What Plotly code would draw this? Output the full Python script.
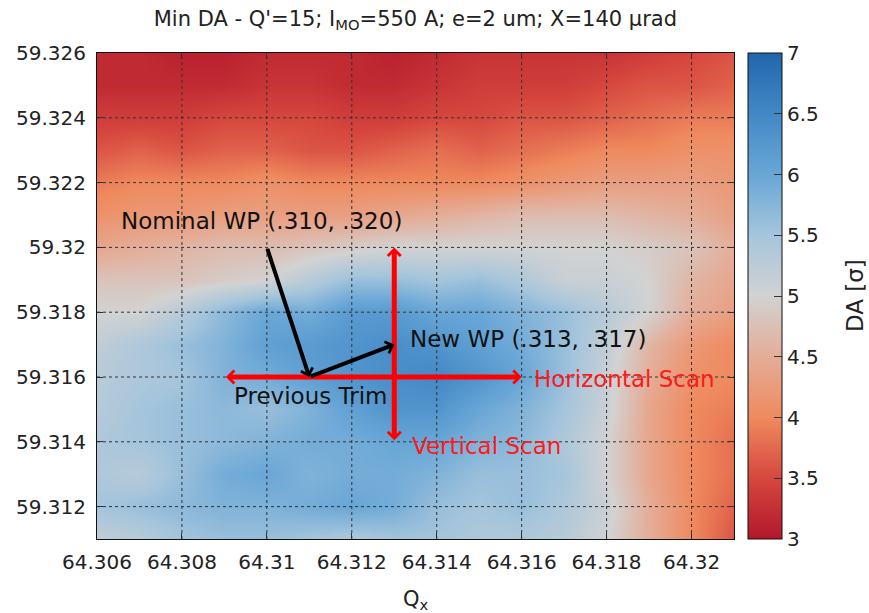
import plotly.graph_objects as go

# Tune axes (data grid)
qx = [64.306, 64.307, 64.308, 64.309, 64.310, 64.311, 64.312, 64.313,
      64.314, 64.315, 64.316, 64.317, 64.318, 64.319, 64.320, 64.321]
qy = [59.311, 59.312, 59.313, 59.314, 59.315, 59.316, 59.317, 59.318,
      59.319, 59.320, 59.321, 59.322, 59.323, 59.324, 59.325, 59.326]

# DA [sigma] values, rows = qy (bottom -> top), cols = qx
da = [
    [5.2, 5.3, 5.5, 5.6, 5.6, 5.5, 5.4, 5.5, 5.5, 5.4, 5.4, 5.3, 5.0, 4.5, 4.0, 3.6],
    [5.5, 5.6, 5.7, 5.8, 5.8, 5.9, 6.0, 5.9, 5.6, 5.5, 5.6, 5.4, 5.1, 4.5, 4.0, 3.7],
    [5.4, 5.3, 5.6, 5.9, 6.0, 5.8, 5.9, 5.9, 5.8, 5.6, 5.6, 5.5, 5.0, 4.4, 4.0, 3.8],
    [5.4, 5.5, 5.6, 5.7, 5.8, 5.9, 5.9, 6.0, 6.0, 5.8, 5.7, 5.4, 5.0, 4.4, 4.0, 3.8],
    [5.3, 5.5, 5.6, 5.7, 5.6, 5.8, 6.1, 6.3, 6.3, 6.0, 5.8, 5.5, 5.1, 4.4, 4.0, 3.9],
    [5.3, 5.4, 5.5, 5.8, 5.9, 6.1, 6.3, 6.4, 6.5, 6.3, 6.0, 5.6, 5.1, 4.5, 4.1, 4.0],
    [5.2, 5.4, 5.6, 5.8, 6.1, 6.2, 6.3, 6.4, 6.3, 6.1, 5.9, 5.6, 5.2, 4.6, 4.2, 4.0],
    [5.0, 5.0, 5.3, 5.7, 6.0, 5.9, 6.2, 6.2, 6.0, 6.0, 5.8, 5.6, 5.3, 5.0, 4.5, 4.3],
    [4.8, 4.8, 4.8, 4.9, 5.0, 5.3, 5.6, 5.6, 5.5, 5.6, 5.4, 5.1, 5.1, 5.0, 4.6, 4.4],
    [4.4, 4.5, 4.6, 4.7, 4.7, 4.8, 4.9, 5.0, 5.0, 5.0, 5.0, 5.0, 5.0, 4.9, 4.8, 4.5],
    [4.1, 4.2, 4.2, 4.3, 4.3, 4.3, 4.3, 4.4, 4.5, 4.6, 4.7, 4.7, 4.7, 4.6, 4.5, 4.3],
    [3.9, 4.0, 4.0, 4.0, 4.1, 4.0, 4.0, 4.0, 4.0, 4.0, 4.1, 4.2, 4.3, 4.3, 4.3, 4.2],
    [3.6, 3.7, 3.6, 3.7, 3.7, 3.6, 3.6, 3.7, 3.8, 3.7, 3.8, 3.9, 4.0, 4.0, 4.1, 4.1],
    [3.4, 3.4, 3.4, 3.5, 3.5, 3.5, 3.4, 3.4, 3.5, 3.5, 3.6, 3.6, 3.7, 3.8, 3.9, 3.9],
    [3.2, 3.2, 3.2, 3.2, 3.3, 3.3, 3.2, 3.2, 3.3, 3.4, 3.4, 3.4, 3.5, 3.6, 3.6, 3.7],
    [3.2, 3.2, 3.1, 3.1, 3.2, 3.2, 3.2, 3.1, 3.2, 3.3, 3.3, 3.3, 3.3, 3.4, 3.5, 3.6],
]

x_ticks = [64.306, 64.308, 64.310, 64.312, 64.314, 64.316, 64.318, 64.320]
x_labels = ["64.306", "64.308", "64.31", "64.312", "64.314", "64.316", "64.318", "64.32"]
y_ticks = [59.312, 59.314, 59.316, 59.318, 59.320, 59.322, 59.324, 59.326]
y_labels = ["59.312", "59.314", "59.316", "59.318", "59.32", "59.322", "59.324", "59.326"]
cb_ticks = [3, 3.5, 4, 4.5, 5, 5.5, 6, 6.5, 7]
cb_labels = ["3", "3.5", "4", "4.5", "5", "5.5", "6", "6.5", "7"]

# Working points / scan ranges
nominal_wp = (64.310, 59.320)
previous_trim = (64.311, 59.316)
new_wp = (64.313, 59.317)
h_scan = (64.309, 64.316, 59.316)
v_scan = (64.313, 59.314, 59.320)

colorscale = [
    [0.0, "#b2182b"], [0.125, "#d6473e"], [0.25, "#ef8a5e"], [0.375, "#e4ad98"],
    [0.5, "#d2d2d2"], [0.625, "#a5c5dc"], [0.75, "#68a6d6"], [0.875, "#4388c5"],
    [1.0, "#2166ac"],
]

FONT = "DejaVu Sans"

fig = go.Figure()
fig.add_trace(go.Heatmap(
    x=qx, y=qy, z=da, zmin=3, zmax=7, zsmooth="best",
    colorscale=colorscale,
    colorbar=dict(
        x=1.022, xanchor="left", xpad=0, y=0.5, yanchor="middle", len=1.0,
        ypad=0, thickness=34, outlinecolor="#111", outlinewidth=1,
        tickvals=cb_ticks, ticktext=cb_labels, ticks="inside", ticklen=8,
        tickcolor="#333", tickfont=dict(family=FONT, size=20, color="#222"),
    ),
    showscale=True,
))

shapes = []
for xv in x_ticks[1:]:
    shapes.append(dict(type="line", xref="x", yref="paper", x0=xv, x1=xv, y0=0, y1=1,
                       line=dict(color="#333", width=1, dash="dot"), layer="above"))
for yv in y_ticks[:-1]:
    shapes.append(dict(type="line", xref="paper", yref="y", x0=0, x1=1, y0=yv, y1=yv,
                       line=dict(color="#333", width=1, dash="dot"), layer="above"))

ann = []
# red scan arrows (double headed)
ann.append(dict(x=h_scan[1], y=h_scan[2], ax=h_scan[0], ay=h_scan[2], xref="x", yref="y",
                axref="x", ayref="y", text="", showarrow=True, arrowhead=4, startarrowhead=4,
                arrowside="end+start", arrowwidth=5, arrowsize=0.5, startarrowsize=0.5,
                arrowcolor="#ff0000", standoff=0, startstandoff=0))
ann.append(dict(x=v_scan[0], y=v_scan[2], ax=v_scan[0], ay=v_scan[1], xref="x", yref="y",
                axref="x", ayref="y", text="", showarrow=True, arrowhead=4, startarrowhead=4,
                arrowside="end+start", arrowwidth=5, arrowsize=0.5, startarrowsize=0.5,
                arrowcolor="#ff0000", standoff=0, startstandoff=0))
# black arrows
ann.append(dict(x=previous_trim[0], y=previous_trim[1], ax=nominal_wp[0], ay=nominal_wp[1],
                xref="x", yref="y", axref="x", ayref="y", text="", showarrow=True,
                arrowhead=4, arrowwidth=4, arrowsize=0.6, arrowcolor="#000", standoff=0))
ann.append(dict(x=new_wp[0], y=new_wp[1], ax=previous_trim[0], ay=previous_trim[1],
                xref="x", yref="y", axref="x", ayref="y", text="", showarrow=True,
                arrowhead=4, arrowwidth=4, arrowsize=0.6, arrowcolor="#000", standoff=0))

def label(text, x, y, color):
    return dict(x=x, y=y, xref="x", yref="y", text=text, showarrow=False,
                xanchor="left", yanchor="middle",
                font=dict(family=FONT, size=23, color=color))

ann.append(label("Nominal WP (.310, .320)", 64.30652, 59.3208, "#111"))
ann.append(label("New WP (.313, .317)", 64.31332, 59.31717, "#111"))
ann.append(label("Previous Trim", 64.30919, 59.31542, "#111"))
ann.append(label("Horizontal Scan", 64.31625, 59.31594, "#ff1a1a"))
ann.append(label("Vertical Scan", 64.31337, 59.31388, "#ff1a1a"))

# colour bar title
ann.append(dict(x=1.19, y=0.5, xref="paper", yref="paper", text="DA [σ]", textangle=-90,
                showarrow=False, xanchor="center", yanchor="middle",
                font=dict(family=FONT, size=23, color="#222")))

fig.update_layout(
    width=869, height=613,
    margin=dict(l=97, r=135, t=53, b=74, autoexpand=False),
    paper_bgcolor="white", plot_bgcolor="white",
    title=dict(text="Min DA - Q'=15; I<sub>MO</sub>=550 A; e=2 um; X=140 μrad",
               x=0.478, xanchor="center", y=0.97, yanchor="middle",
               font=dict(family=FONT, size=21, color="#222")),
    xaxis=dict(range=[64.306, 64.321], tickvals=x_ticks, ticktext=x_labels,
               ticks="inside", ticklen=6, tickcolor="#333", showgrid=False,
               showline=True, linecolor="#111", linewidth=1, mirror="allticks",
               tickfont=dict(family=FONT, size=20, color="#222"), zeroline=False,
               ticklabelstandoff=5, automargin=False,
               title=dict(text="Q<sub>x</sub>", font=dict(family=FONT, size=21, color="#222"),
                          standoff=22)),
    yaxis=dict(range=[59.311, 59.326], tickvals=y_ticks, ticktext=y_labels,
               ticks="inside", ticklen=6, tickcolor="#333", showgrid=False,
               showline=True, linecolor="#111", linewidth=1, mirror="allticks",
               tickfont=dict(family=FONT, size=20, color="#222"), zeroline=False,
               ticklabelstandoff=6, automargin=False),
    shapes=shapes, annotations=ann,
)

fig.write_html("out.html")
